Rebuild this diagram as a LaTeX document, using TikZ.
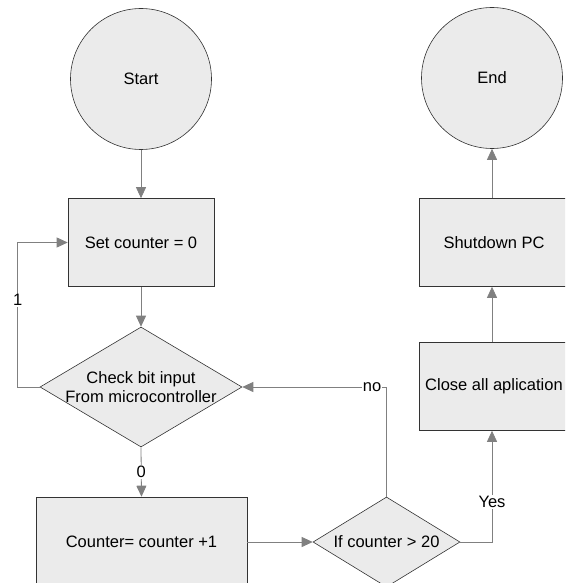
\documentclass[tikz,border=0pt]{standalone}
\usepackage{fontspec}
\setmainfont{Liberation Sans}
\usetikzlibrary{shapes.geometric,arrows.meta}

\definecolor{boxfill}{HTML}{EBEBEB}
\definecolor{linegray}{HTML}{808080}

\begin{document}
\begin{tikzpicture}[x=1pt,y=-1pt,
  every node/.style={font=\fontsize{16.5}{19.5}\selectfont},
  term/.style={circle,draw=black!80,fill=boxfill,line width=0.6pt,minimum size=141pt,inner sep=0pt},
  proc/.style={rectangle,draw=black!80,fill=boxfill,line width=0.6pt,minimum width=146pt,minimum height=88pt,inner sep=0pt},
  decide/.style={diamond,draw=black!80,fill=boxfill,line width=0.6pt,aspect=1.8,inner sep=0pt,align=center},
  flow/.style={draw=linegray,line width=0.8pt,-{Triangle[length=11pt,width=10pt]}},
  lbl/.style={fill=white,inner sep=1pt}]
  \clip (0,0) rectangle (565,583);

  \node[term] (start) at (141,79) {Start};
  \node[term] (end) at (492,78) {End};

  \node[proc] (set) at (141,242.5) {Set counter = 0};
  \node[decide,minimum width=202pt,minimum height=120pt,inner xsep=-12pt,inner ysep=-5pt] (check) at (141,387) {Check bit input\\From microcontroller};
  \node[proc,minimum width=211pt,minimum height=90pt] (count) at (141.5,542) {Counter= counter +1};
  \node[decide,minimum width=147pt,minimum height=90pt] (if) at (386.5,542) {If counter > 20};

  \node[proc,minimum width=150pt] (close) at (494,386.5) {Close all aplication};
  \node[proc,minimum width=150pt] (shut) at (494,242.5) {Shutdown PC};

  \draw[flow] (start) -- (set);
  \draw[flow] (set) -- (check);
  \draw[flow] (check.west) -- ++(-22,0) |- node[lbl,pos=0.3]{1} (set.west);
  \draw[flow] (check.south) -- node[lbl]{0} (count.north);
  \draw[flow] (count) -- (if);
  \draw[flow] (if.north) |- node[lbl,pos=0.55]{no} (check.east);
  \draw[flow] (if.east) -| node[lbl,pos=0.68]{Yes} (close.south -| end);
  \draw[flow] (close.north -| end) -- (shut.south -| end);
  \draw[flow] (shut.north -| end) -- (end);

\end{tikzpicture}
\end{document}
